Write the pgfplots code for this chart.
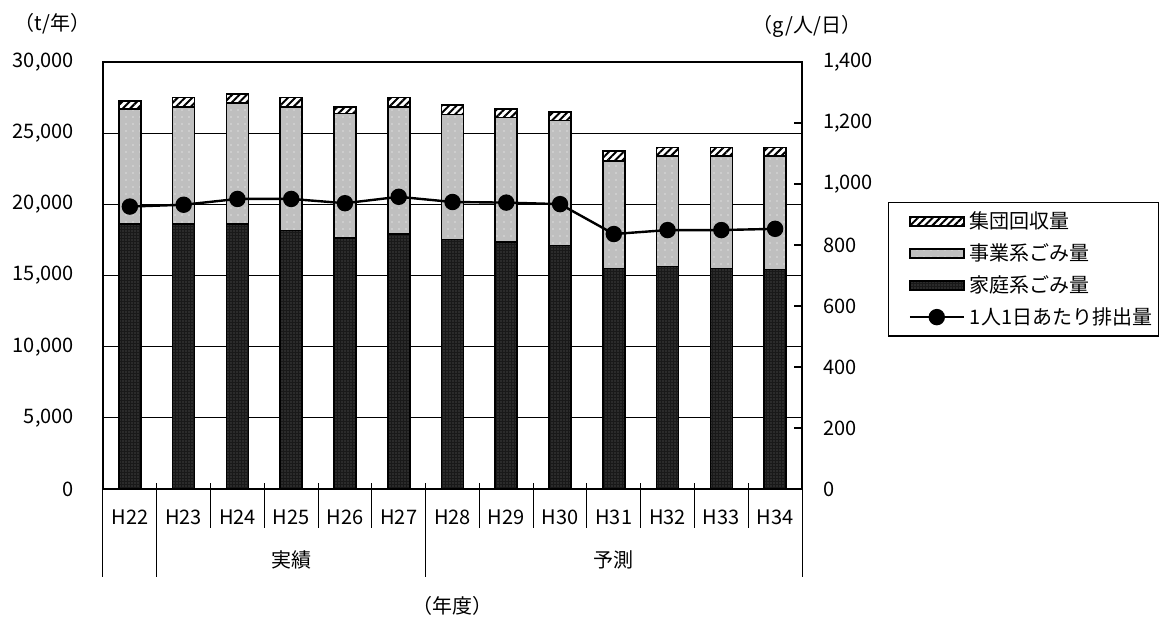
\documentclass[border=0pt]{standalone}
\usepackage{fontspec}
\setmainfont{Noto Sans CJK JP}
\usepackage{pgfplots}
\pgfplotsset{compat=1.18}
\usepackage{pgfplotstable}
\usetikzlibrary{patterns.meta}

% bar fills: household (dark, fine dots), business (grey, sparse dots), group collection (hatched)
\tikzset{
  hhstyle/.style={draw=black, line width=0.8pt, fill=black!90,
    postaction={pattern={Dots[distance=1.5pt, radius=0.22pt]}, pattern color=white}},
  bizstyle/.style={draw=black, line width=0.8pt, fill=black!25,
    postaction={pattern={Dots[distance=3.5pt, radius=0.35pt]}, pattern color=white}},
  grpstyle/.style={draw=black, line width=0.8pt, fill=white,
    postaction={pattern={Lines[angle=45, distance=2.6pt, line width=1pt]}, pattern color=black}},
}

\pgfplotsset{
  hhleg/.style={legend image code/.code={\path (-7pt,0pt); \draw[hhstyle] (0pt,-2.25pt) rectangle (27pt,2.25pt);}},
  bizleg/.style={legend image code/.code={\path (-7pt,0pt); \draw[bizstyle] (0pt,-2.25pt) rectangle (27pt,2.25pt);}},
  grpleg/.style={legend image code/.code={\path (-7pt,0pt); \draw[grpstyle] (0pt,-2.25pt) rectangle (27pt,2.25pt);}},
  pcleg/.style={legend image code/.code={\path (-7pt,0pt); \draw[mark repeat=2,mark phase=2,##1] plot coordinates {(0pt,0pt) (13.5pt,0pt) (27pt,0pt)};}},
}

% x: fiscal year index (0 = H22), hh / biz / grp in t/year, pc in g/person/day
\pgfplotstableread{
x hh biz grp pc
0 18620 8060 600 926
1 18620 8200 700 932
2 18620 8480 650 951
3 18150 8710 660 951
4 17640 8750 470 937
5 17920 8900 700 958
6 17540 8760 700 941
7 17350 8760 570 939
8 17120 8760 610 934
9 15500 7550 710 836
10 15620 7760 610 849
11 15500 7880 610 849
12 15430 7950 610 853
}\wastedata

\begin{document}
\begin{tikzpicture}[font=\fontsize{10}{12}\selectfont]
\path[use as bounding box] (0pt,0pt) rectangle (583.5pt,-310.5pt);

\begin{axis}[
  at={(51.5pt,-244.5pt)}, anchor=south west,
  scale only axis, width=349.5pt, height=213.5pt,
  xmin=-0.5, xmax=12.5, ymin=0, ymax=30000,
  ybar stacked, bar width=11pt,
  xtick={0,...,12},
  xticklabels={H22,H23,H24,H25,H26,H27,H28,H29,H30,H31,H32,H33,H34},
  major x tick style={draw=none},
  minor xtick={0.5,1.5,2.5,3.5,4.5,5.5,6.5,7.5,8.5,9.5,10.5,11.5},
  xtick pos=bottom, ytick pos=left,
  tick align=inside,
  ytick={0,5000,...,30000},
  scaled y ticks=false,
  ymajorgrids, grid style={black, line width=0.65pt},
  axis line style={line width=1.2pt},
  major tick length=4pt, minor tick length=3pt,
  every tick/.style={black, line width=0.5pt},
  ticklabel style={font=\fontsize{10}{12}\selectfont},
  yticklabel style={xshift=-11pt},
  xticklabel style={yshift=-7pt},
  /pgf/number format/fixed,
  /pgf/number format/1000 sep={,},
  /pgf/number format/assume math mode=true,
  clip=false,
]
\addplot[hhstyle] table[x=x, y=hh] {\wastedata};
\addplot[bizstyle] table[x=x, y=biz] {\wastedata};
\addplot[grpstyle] table[x=x, y=grp] {\wastedata};

% category dividers below the axis
\pgfplotsinvokeforeach{1.5,2.5,3.5,4.5,6.5,7.5,8.5,9.5,10.5,11.5}{
  \draw[line width=0.5pt] (axis cs:#1,0) -- ++(0pt,-19.5pt);
}
\pgfplotsinvokeforeach{-0.5,0.5,5.5,12.5}{
  \draw[line width=0.5pt] (axis cs:#1,0) -- ++(0pt,-44pt);
}
\node at (axis cs:3,0) [yshift=-35.5pt] {実績};
\node at (axis cs:9,0) [yshift=-35.5pt] {予測};
\node at (rel axis cs:0.5,0) [yshift=-58.5pt] {（年度）};
\end{axis}

\begin{axis}[
  at={(51.5pt,-244.5pt)}, anchor=south west,
  scale only axis, width=349.5pt, height=213.5pt,
  xmin=-0.5, xmax=12.5, ymin=0, ymax=1400,
  axis y line*=right, axis x line=none,
  ytick={0,200,...,1400},
  tick align=inside,
  major tick length=4pt,
  every tick/.style={black, line width=0.6pt},
  axis line style={line width=1.2pt},
  ticklabel style={font=\fontsize{10}{12}\selectfont},
  yticklabel style={xshift=7pt},
  /pgf/number format/fixed,
  /pgf/number format/1000 sep={,},
  /pgf/number format/assume math mode=true,
  legend style={at={(1.123,0.672)}, anchor=north west,
    draw=black, line width=0.6pt,
    inner xsep=3pt, inner ysep=4.5pt,
    row sep=6pt, column sep=2.5pt,
    nodes={inner sep=0pt},
    font=\fontsize{10}{12}\selectfont},
  legend cell align=left,
  clip=false,
]
\addlegendimage{grpleg}
\addlegendentry{集団回収量}
\addlegendimage{bizleg}
\addlegendentry{事業系ごみ量}
\addlegendimage{hhleg}
\addlegendentry{家庭系ごみ量}
\addplot[black, line width=1.2pt, mark=*, mark size=3.5pt, mark options={fill=black}, pcleg]
  table[x=x, y=pc] {\wastedata};
\addlegendentry{1人1日あたり排出量}
\end{axis}

\node at (26.25pt,-12pt) {（t/年）};
\node at (403.5pt,-13pt) {（g/人/日）};
\end{tikzpicture}
\end{document}
